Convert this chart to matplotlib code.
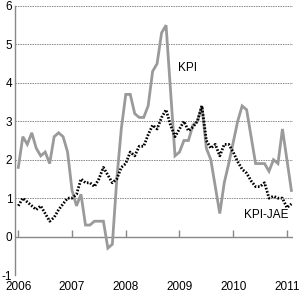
import numpy as np
import matplotlib
matplotlib.use('Agg')
import matplotlib.pyplot as plt

plt.rcParams['font.family'] = ['Liberation Sans', 'DejaVu Sans']

# Monthly data, Jan 2006 - Feb 2011
kpi = [1.8, 2.6, 2.4, 2.7, 2.3, 2.1, 2.2, 1.9, 2.6, 2.7, 2.6, 2.2,
       1.2, 0.8, 1.1, 0.3, 0.3, 0.4, 0.4, 0.4, -0.3, -0.2, 1.5, 2.8,
       3.7, 3.7, 3.2, 3.1, 3.1, 3.4, 4.3, 4.5, 5.3, 5.5, 3.8, 2.1,
       2.2, 2.5, 2.5, 2.9, 3.0, 3.4, 2.3, 2.0, 1.3, 0.6, 1.4, 1.9,
       2.45, 3.0, 3.4, 3.3, 2.6, 1.9, 1.9, 1.9, 1.7, 2.0, 1.9, 2.8,
       2.0, 1.2]
kpi_jae = [0.8, 1.0, 0.9, 0.8, 0.7, 0.8, 0.6, 0.4, 0.5, 0.7, 0.85, 1.0,
           1.0, 1.1, 1.5, 1.4, 1.4, 1.3, 1.5, 1.8, 1.6, 1.4, 1.5, 1.8,
           1.9, 2.2, 2.1, 2.35, 2.35, 2.65, 2.9, 2.8, 3.1, 3.3, 2.9, 2.6,
           2.8, 3.0, 2.75, 2.85, 3.0, 3.4, 2.5, 2.3, 2.4, 2.1, 2.4, 2.4,
           2.2, 1.95, 1.75, 1.65, 1.45, 1.3, 1.3, 1.4, 1.0, 1.05, 1.0, 1.0,
           0.75, 0.85]
years = [2006, 2007, 2008, 2009, 2010, 2011]
yticks = [-1, 0, 1, 2, 3, 4, 5, 6]

x = 2006 + np.arange(len(kpi)) / 12.0

fig = plt.figure(figsize=(3.0, 2.94), dpi=100)
ax = fig.add_axes([0.05, 0.0646, 0.927, 0.915])

ax.plot(x, kpi, color='#9a9a9a', lw=2.0, solid_joinstyle='miter', zorder=3)
ax.plot(x, kpi_jae, color='black', lw=2.0, ls=(0, (0.6, 0.6)), zorder=4)

ax.set_xlim(2006 - 0.062, 2011.115)
ax.set_ylim(-1, 6)

ax.set_yticks(yticks)
ax.set_yticklabels([str(v) for v in yticks], fontsize=8.5)
for v in yticks:
    if v != 0:
        ax.axhline(v, color='#888888', lw=0.7, ls=(0, (1.5, 1)), zorder=1)
ax.axhline(0, color='#888888', lw=1.0, zorder=2)

ax.set_xticks(years)
ax.set_xticklabels([str(y) for y in years], fontsize=8.5)
ax.tick_params(axis='y', length=0, pad=2)
ax.tick_params(axis='x', length=0, pad=4.5)

sec = ax.secondary_xaxis(1 / 7.0)
sec.set_xticks(years)
sec.tick_params(axis='x', direction='in', length=5, width=1.0, color='#888888',
                labelbottom=False, labeltop=False)
sec.spines['bottom'].set_visible(False)
sec.spines['top'].set_visible(False)

for s in ['top', 'right', 'bottom']:
    ax.spines[s].set_visible(False)
ax.spines['left'].set_color('#888888')
ax.spines['left'].set_linewidth(1.0)

ax.text(2009.14, 4.39, 'KPI', fontsize=8.5, ha='center', va='center')
ax.text(2010.62, 0.56, 'KPI-JAE', fontsize=8.5, ha='center', va='center', zorder=5)

fig.savefig('out.png', dpi=100)
